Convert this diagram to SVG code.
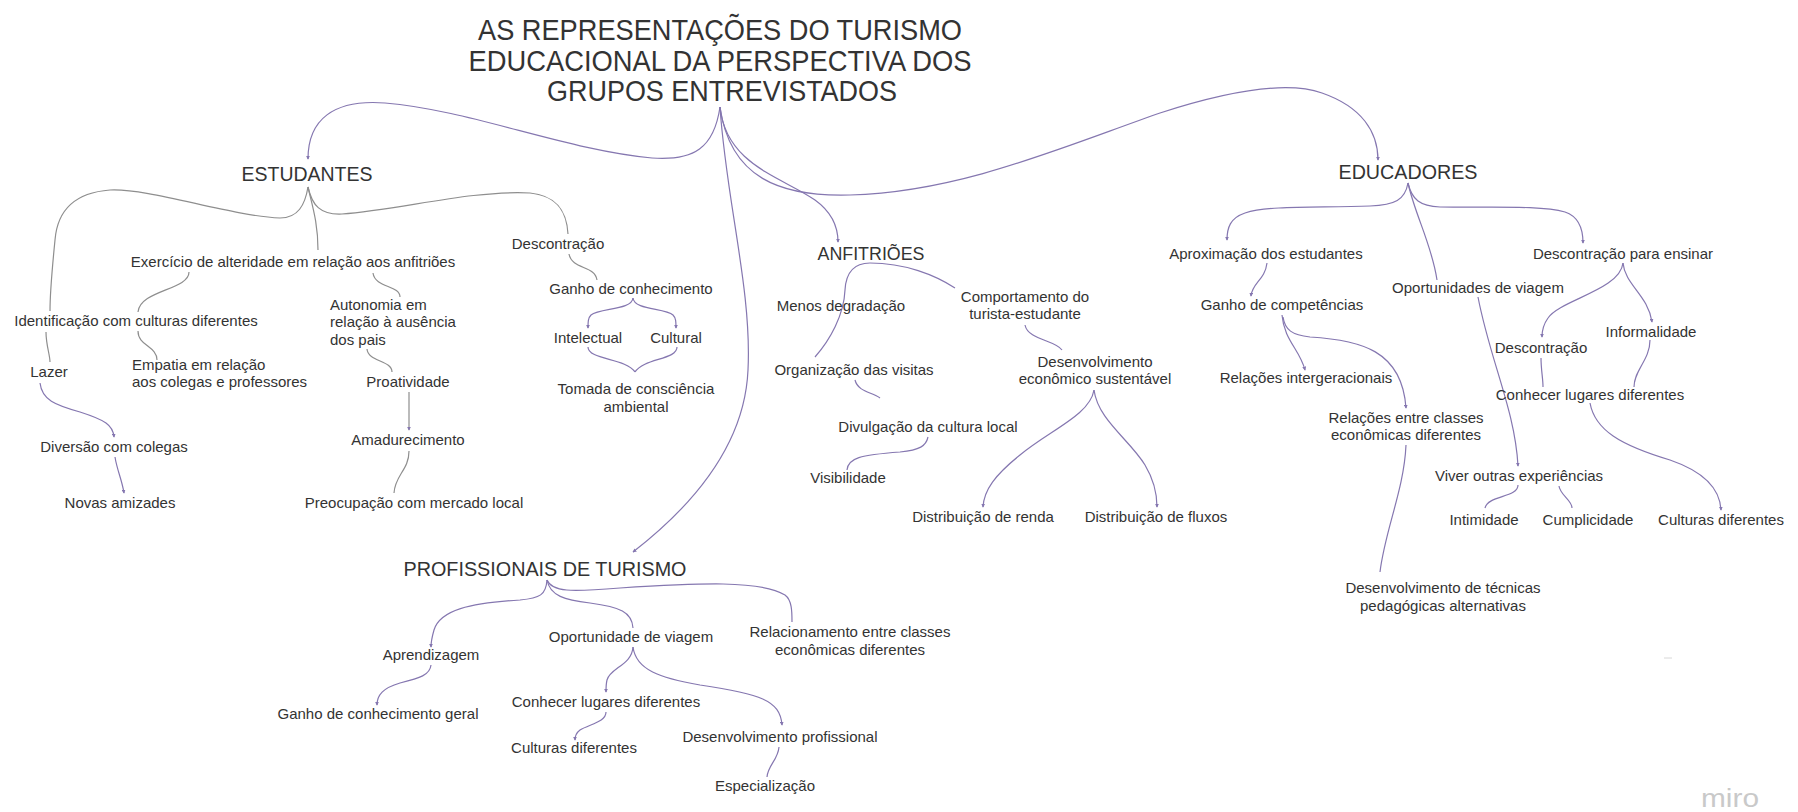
<svg xmlns="http://www.w3.org/2000/svg" width="1798" height="812" viewBox="0 0 1798 812">
<defs>
<style>
text{font-family:"Liberation Sans",Arial,sans-serif;fill:#333;}
.t{font-size:30px;text-anchor:middle;}
.h{font-size:21px;text-anchor:middle;}
.n{font-size:15px;text-anchor:middle;}
.l{font-size:15px;text-anchor:start;}
.c path{fill:none;stroke:#8577b0;stroke-width:1.2;marker-end:url(#ar);}
.c path.g{stroke:#8e8e8e;}
.c path.x{marker-end:none;}
</style>
<marker id="ar" viewBox="0 0 6 6" refX="5" refY="3" markerWidth="4" markerHeight="4" orient="auto" markerUnits="userSpaceOnUse">
<path d="M0,0 L6,3 L0,6 z" fill="#8577b0" stroke="none"/>
</marker>
</defs>
<rect width="1798" height="812" fill="#fff"/>

<g id="connectors" class="c">
<!-- title root -->
<path d="M720,107 C714,148 694,161 652,158 C565,150 470,110 385,103 C333,99 308,120 308,159"/>
<path d="M720,107 C726,200 752,290 748,370 C745,440 700,500 633,552"/>
<path d="M720,107 C726,165 782,177 815,200 C833,213 838,228 838,242"/>
<path d="M720,107 C730,178 780,197 850,195 C960,192 1060,148 1160,113 C1225,92 1285,80 1322,93 C1362,107 1378,132 1378,160"/>
<!-- estudantes -->
<path class="g x" d="M308,187 C305,205 298,218 280,218 C230,216 150,188 110,190 C70,193 57,215 55,240 C52,270 50,295 50,311"/>
<path class="g x" d="M308,187 C312,205 318,222 318,250"/>
<path class="g x" d="M308,187 C312,205 320,215 342,214 C400,210 470,190 530,193 C560,196 567,215 568,234"/>
<path class="g x" d="M189,272 C189,290 140,290 138,312"/>
<path class="g x" d="M138,331 C138,346 157,346 157,360"/>
<path class="g x" d="M373,273 C375,288 400,285 400,297"/>
<path class="g x" d="M367,349 C368,362 392,360 392,372"/>
<path class="g" d="M409,392 L409,430"/>
<path class="g x" d="M409,451 C409,470 395,475 394,493"/>
<path class="g x" d="M46,332 C46,345 50,355 50,362"/>
<path d="M40,383 C42,400 55,405 80,412 C105,420 113,425 114,437"/>
<path d="M115,457 C117,470 122,480 124,493"/>
<path class="g x" d="M569,254 C572,270 595,265 597,280"/>
<path d="M633,298 C632,310 600,308 591,315 C588,318 588,322 588,328"/>
<path d="M633,298 C634,310 665,308 673,315 C676,318 676,322 676,328"/>
<path class="x" d="M588,347 C588,360 626,358 635,372"/>
<path class="x" d="M677,347 C677,360 644,358 635,372"/>
<!-- anfitrioes -->
<path class="x" d="M870,263 C855,263 846,272 845,290 C844,315 830,340 815,357"/>
<path class="x" d="M870,263 C905,263 935,275 955,288"/>
<path class="x" d="M855,380 C858,392 872,392 880,398"/>
<path class="x" d="M928,437 C926,446 920,450 900,452 C860,455 848,458 847,470"/>
<path class="x" d="M1025,325 C1028,340 1055,340 1062,350"/>
<path d="M1094,390 C1090,415 1050,430 1020,455 C995,475 984,490 983,507"/>
<path d="M1094,390 C1098,420 1130,440 1145,465 C1154,480 1157,495 1157,507"/>
<!-- educadores -->
<path d="M1408,183 C1405,200 1395,205 1370,206 C1320,208 1270,205 1245,213 C1230,218 1227,228 1227,240"/>
<path class="x" d="M1408,183 C1415,215 1432,245 1437,280"/>
<path d="M1408,183 C1412,200 1420,206 1440,207 C1490,208 1540,205 1565,212 C1580,217 1583,230 1583,243"/>
<path d="M1267,263 C1265,280 1252,283 1251,296"/>
<path d="M1282,315 C1284,340 1300,350 1305,370"/>
<path d="M1283,317 C1285,330 1292,335 1310,337 C1360,340 1402,350 1406,408"/>
<path class="x" d="M1406,445 C1404,490 1385,530 1380,572"/>
<path d="M1478,297 C1490,360 1515,410 1518,466"/>
<path d="M1623,263 C1620,290 1560,300 1548,318 C1543,325 1542,330 1542,337"/>
<path d="M1623,263 C1625,285 1648,295 1652,322"/>
<path class="x" d="M1541,358 C1541,370 1543,378 1543,387"/>
<path class="x" d="M1650,340 C1650,360 1634,370 1634,387"/>
<path d="M1590,403 C1595,430 1620,445 1670,460 C1705,472 1720,490 1721,510"/>
<path class="x" d="M1518,485 C1518,498 1488,495 1485,508"/>
<path class="x" d="M1559,486 C1560,495 1572,500 1572,508"/>
<!-- profissionais -->
<path d="M547,580 C546,595 540,598 520,600 C470,603 440,610 434,630 C432,637 431,642 431,647"/>
<path class="x" d="M547,580 C550,596 565,600 590,603 C620,607 632,612 633,628"/>
<path class="x" d="M547,580 C552,592 570,592 620,588 C700,583 760,580 785,595 C792,600 792,612 792,622"/>
<path d="M431,665 C430,675 420,678 400,683 C383,688 377,695 377,705"/>
<path d="M633,647 C632,665 610,668 607,680 C606,684 606,688 606,692"/>
<path d="M633,647 C636,670 660,678 700,685 C760,694 780,700 782,725"/>
<path d="M606,712 C606,722 590,724 580,730 C576,733 575,737 575,740"/>
<path class="x" d="M779,747 C778,760 768,765 767,777"/>
</g>

<g id="title">
<text class="t" x="720" y="40" textLength="484" lengthAdjust="spacingAndGlyphs">AS REPRESENTAÇÕES DO TURISMO</text>
<text class="t" x="720" y="71" textLength="503" lengthAdjust="spacingAndGlyphs">EDUCACIONAL DA PERSPECTIVA DOS</text>
<text class="t" x="722" y="101" textLength="350" lengthAdjust="spacingAndGlyphs">GRUPOS ENTREVISTADOS</text>
</g>

<g id="estudantes"><text class="h" x="307" y="181" textLength="131" lengthAdjust="spacingAndGlyphs">ESTUDANTES</text></g>
<g id="educadores"><text class="h" x="1408" y="179" textLength="139" lengthAdjust="spacingAndGlyphs">EDUCADORES</text></g>
<g id="anfitrioes"><text class="h" x="871" y="260" style="font-size:18px" textLength="107" lengthAdjust="spacingAndGlyphs">ANFITRIÕES</text></g>
<g id="profissionais"><text class="h" x="545" y="576" textLength="283" lengthAdjust="spacingAndGlyphs">PROFISSIONAIS DE TURISMO</text></g>

<g id="e-exercicio"><text class="n" x="293" y="267">Exercício de alteridade em relação aos anfitriões</text></g>
<g id="e-descontracao"><text class="n" x="558" y="249">Descontração</text></g>
<g id="e-identificacao"><text class="n" x="136" y="326">Identificação com culturas diferentes</text></g>
<g id="e-autonomia"><text class="l" x="330" y="310">Autonomia em</text><text class="l" x="330" y="327">relação à ausência</text><text class="l" x="330" y="345">dos pais</text></g>
<g id="e-lazer"><text class="n" x="49" y="377">Lazer</text></g>
<g id="e-empatia"><text class="l" x="132" y="370">Empatia em relação</text><text class="l" x="132" y="387">aos colegas e professores</text></g>
<g id="e-proatividade"><text class="n" x="408" y="387">Proatividade</text></g>
<g id="e-amadurecimento"><text class="n" x="408" y="445">Amadurecimento</text></g>
<g id="e-diversao"><text class="n" x="114" y="452">Diversão com colegas</text></g>
<g id="e-novas"><text class="n" x="120" y="508">Novas amizades</text></g>
<g id="e-preocupacao"><text class="n" x="414" y="508">Preocupação com mercado local</text></g>
<g id="e-ganho"><text class="n" x="631" y="294">Ganho de conhecimento</text></g>
<g id="e-intelectual"><text class="n" x="588" y="343">Intelectual</text></g>
<g id="e-cultural"><text class="n" x="676" y="343">Cultural</text></g>
<g id="e-tomada"><text class="n" x="636" y="394">Tomada de consciência</text><text class="n" x="636" y="412">ambiental</text></g>

<g id="a-menos"><text class="n" x="841" y="311">Menos degradação</text></g>
<g id="a-comportamento"><text class="n" x="1025" y="302">Comportamento do</text><text class="n" x="1025" y="319">turista-estudante</text></g>
<g id="a-organizacao"><text class="n" x="854" y="375">Organização das visitas</text></g>
<g id="a-desenvolvimento"><text class="n" x="1095" y="367">Desenvolvimento</text><text class="n" x="1095" y="384">econômico sustentável</text></g>
<g id="a-divulgacao"><text class="n" x="928" y="432">Divulgação da cultura local</text></g>
<g id="a-visibilidade"><text class="n" x="848" y="483">Visibilidade</text></g>
<g id="a-renda"><text class="n" x="983" y="522">Distribuição de renda</text></g>
<g id="a-fluxos"><text class="n" x="1156" y="522">Distribuição de fluxos</text></g>

<g id="d-aproximacao"><text class="n" x="1266" y="259">Aproximação dos estudantes</text></g>
<g id="d-descontracao-ensinar"><text class="n" x="1623" y="259">Descontração para ensinar</text></g>
<g id="d-oportunidades"><text class="n" x="1478" y="293">Oportunidades de viagem</text></g>
<g id="d-ganho"><text class="n" x="1282" y="310">Ganho de competências</text></g>
<g id="d-informalidade"><text class="n" x="1651" y="337">Informalidade</text></g>
<g id="d-descontracao"><text class="n" x="1541" y="353">Descontração</text></g>
<g id="d-intergeracionais"><text class="n" x="1306" y="383">Relações intergeracionais</text></g>
<g id="d-conhecer"><text class="n" x="1590" y="400">Conhecer lugares diferentes</text></g>
<g id="d-classes"><text class="n" x="1406" y="423">Relações entre classes</text><text class="n" x="1406" y="440">econômicas diferentes</text></g>
<g id="d-viver"><text class="n" x="1519" y="481">Viver outras experiências</text></g>
<g id="d-intimidade"><text class="n" x="1484" y="525">Intimidade</text></g>
<g id="d-cumplicidade"><text class="n" x="1588" y="525">Cumplicidade</text></g>
<g id="d-culturas"><text class="n" x="1721" y="525">Culturas diferentes</text></g>
<g id="d-tecnicas"><text class="n" x="1443" y="593">Desenvolvimento de técnicas</text><text class="n" x="1443" y="611">pedagógicas alternativas</text></g>

<g id="p-aprendizagem"><text class="n" x="431" y="660">Aprendizagem</text></g>
<g id="p-oportunidade"><text class="n" x="631" y="642">Oportunidade de viagem</text></g>
<g id="p-relacionamento"><text class="n" x="850" y="637">Relacionamento entre classes</text><text class="n" x="850" y="655">econômicas diferentes</text></g>
<g id="p-ganho"><text class="n" x="378" y="719">Ganho de conhecimento geral</text></g>
<g id="p-conhecer"><text class="n" x="606" y="707">Conhecer lugares diferentes</text></g>
<g id="p-culturas"><text class="n" x="574" y="753">Culturas diferentes</text></g>
<g id="p-desenvolvimento"><text class="n" x="780" y="742">Desenvolvimento profissional</text></g>
<g id="p-especializacao"><text class="n" x="765" y="791">Especialização</text></g>

<line x1="1664" y1="658" x2="1672" y2="658" stroke="#d8d8d8" stroke-width="1"/>
<text x="1730" y="807" style="font-size:26px;fill:#c9c9c9;text-anchor:middle" textLength="58" lengthAdjust="spacingAndGlyphs">miro</text>
</svg>
